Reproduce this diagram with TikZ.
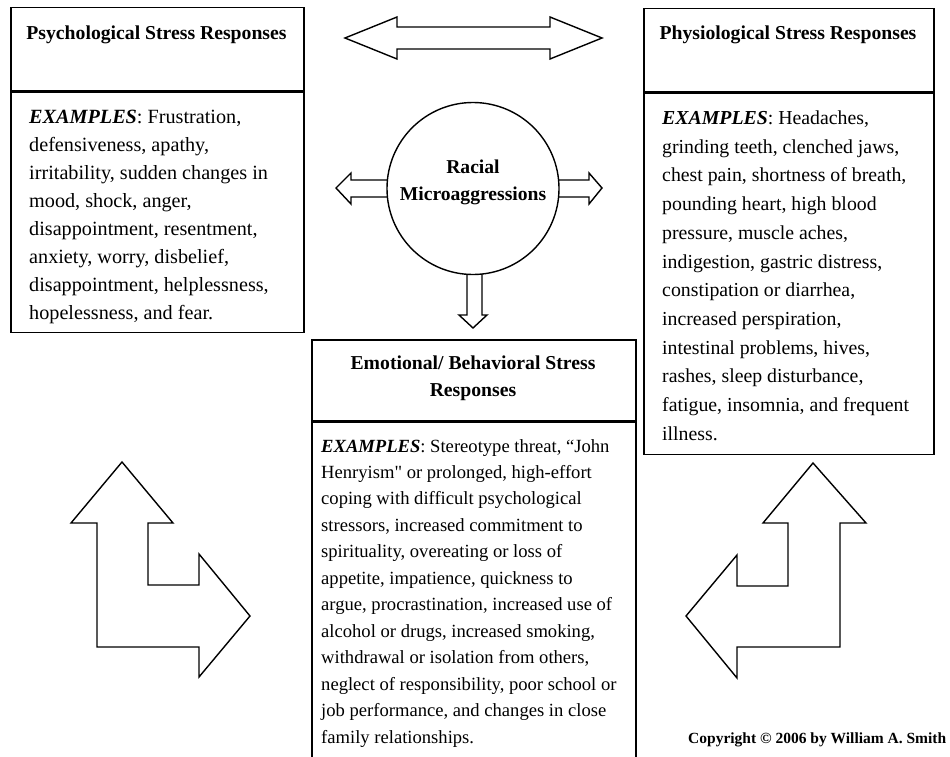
\documentclass[tikz,border=0pt]{standalone}
\usepackage{fontspec}
\setmainfont{Liberation Serif}
\newcommand{\straightquote}{{\addfontfeatures{Ligatures=TeXOff}"}}
\begin{document}
\begin{tikzpicture}[x=1pt,y=-1pt,
  box/.style={draw, line width=1.5pt, inner sep=0pt, anchor=north west},
  hdr/.style={font=\fontsize{19.7}{27}\selectfont\bfseries, align=center, inner sep=0pt, anchor=base},
  bodytext/.style={align=left, inner sep=0pt, anchor=base west},
  blockarrow/.style={draw, line width=1.4pt, line join=miter, fill=white},
  hub/.style={draw, circle, line width=1.4pt, fill=white, minimum size=172pt, inner sep=0pt}]
\useasboundingbox (0,0) rectangle (950,757);
\clip (0,0) rectangle (950,757);

% boxes
\node[box, minimum width=293pt, minimum height=83pt] (psyhead) at (10,7) {};
\node[box, minimum width=293pt, minimum height=240pt] (psybody) at (psyhead.south west) {};
\node[box, minimum width=290pt, minimum height=83pt] (phyhead) at (643,8) {};
\node[box, minimum width=290pt, minimum height=361pt] (phybody) at (phyhead.south west) {};
\node[box, minimum width=324pt, minimum height=81pt] (emohead) at (311,339) {};
\node[box, minimum width=324pt, minimum height=400pt] (emobody) at (emohead.south west) {};

% titles (anchor base = baseline of the last line)
\node[hdr] (psytitle) at (156.5,40) {Psychological Stress Responses};
\node[hdr] (phytitle) at (788,40) {Physiological Stress Responses};
\node[hdr] (emotitle) at (473,396) {Emotional/ Behavioral Stress\\Responses};

% body texts (anchor base west = baseline of the last line)
\node[bodytext, font=\fontsize{20.2}{28.1}\selectfont] (psytext) at (29,319.7)
 {\textbf{\textit{EXAMPLES}}: Frustration,\\
  defensiveness, apathy,\\
  irritability, sudden changes in\\
  mood, shock, anger,\\
  disappointment, resentment,\\
  anxiety, worry, disbelief,\\
  disappointment, helplessness,\\
  hopelessness, and fear.};
\node[bodytext, font=\fontsize{19.8}{28.7}\selectfont] (phytext) at (662,440.2)
 {\textbf{\textit{EXAMPLES}}: Headaches,\\
  grinding teeth, clenched jaws,\\
  chest pain, shortness of breath,\\
  pounding heart, high blood\\
  pressure, muscle aches,\\
  indigestion, gastric distress,\\
  constipation or diarrhea,\\
  increased perspiration,\\
  intestinal problems, hives,\\
  rashes, sleep disturbance,\\
  fatigue, insomnia, and frequent\\
  illness.};
\node[bodytext, font=\fontsize{18.6}{26.45}\selectfont] (emotext) at (321,743)
 {\textbf{\textit{EXAMPLES}}: Stereotype threat, ``John\\
  Henryism\straightquote{} or prolonged, high-effort\\
  coping with difficult psychological\\
  stressors, increased commitment to\\
  spirituality, overeating or loss of\\
  appetite, impatience, quickness to\\
  argue, procrastination, increased use of\\
  alcohol or drugs, increased smoking,\\
  withdrawal or isolation from others,\\
  neglect of responsibility, poor school or\\
  job performance, and changes in close\\
  family relationships.};

% top double arrow
\draw[blockarrow] (345,38) -- (397,17) -- (397,27) -- (550,27) -- (550,17) -- (602,38)
  -- (550,59) -- (550,49) -- (397,49) -- (397,59) -- cycle;

% arrows out of the circle
\draw[blockarrow] (336,188) -- (351,173) -- (351,180) -- (400,180) -- (400,197) -- (351,197) -- (351,204) -- cycle;
\draw[blockarrow] (602,188) -- (589,173) -- (589,180) -- (546,180) -- (546,197) -- (589,197) -- (589,204) -- cycle;
\draw[blockarrow] (473,328) -- (459,315) -- (467,315) -- (467,265) -- (482,265) -- (482,315) -- (487,315) -- cycle;

% circle
\node[hub] (micro) at (473,188.5) {};
\node[font=\fontsize{19.6}{27}\selectfont\bfseries, align=center, inner sep=0pt, anchor=base] (microtext) at (473,200) {Racial\\Microaggressions};

% L-shaped arrows
\draw[blockarrow] (122,462) -- (173,523) -- (148,523) -- (148,585) -- (199,585) -- (199,554)
  -- (250,616) -- (199,677) -- (199,647) -- (97,647) -- (97,523) -- (71,523) -- cycle;
\draw[blockarrow] (813,463) -- (866,523) -- (840,523) -- (840,647) -- (737,647) -- (737,678)
  -- (686,616) -- (737,555) -- (737,586) -- (788,586) -- (788,523) -- (763,523) -- cycle;

% copyright
\node[font=\fontsize{15.5}{18}\selectfont\bfseries, inner sep=0pt, anchor=base west] (copy) at (688,743) {Copyright \textcopyright{} 2006 by William A. Smith};
\end{tikzpicture}
\end{document}
